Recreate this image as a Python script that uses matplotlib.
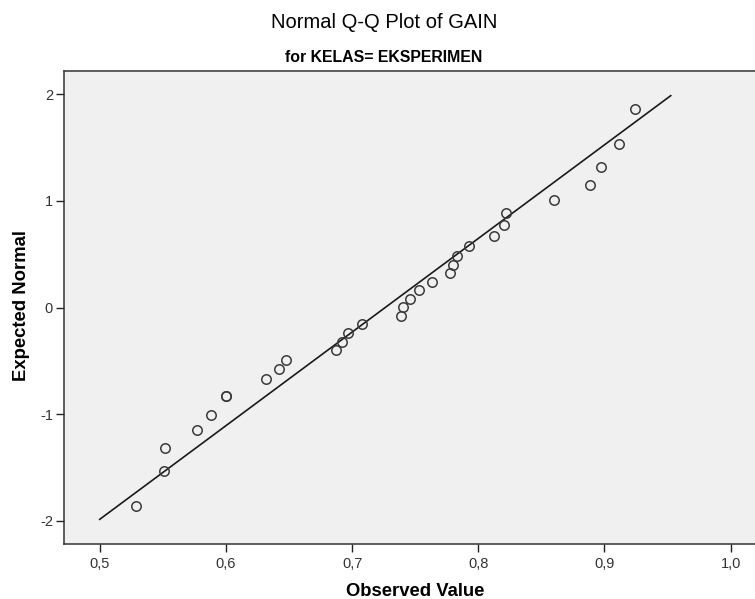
import matplotlib
matplotlib.use("Agg")
import matplotlib.pyplot as plt
from matplotlib.ticker import FuncFormatter

plt.rcParams['font.family'] = ['Liberation Sans', 'DejaVu Sans']

observed = [0.5285, 0.5512, 0.5520, 0.5771, 0.5882, 0.5998, 0.6315, 0.6423,
            0.6479, 0.6872, 0.6922, 0.6970, 0.7081, 0.7390, 0.7403, 0.7456,
            0.7528, 0.7631, 0.7776, 0.7797, 0.7829, 0.7924, 0.8122, 0.8204,
            0.8217, 0.8600, 0.8888, 0.8972, 0.9113, 0.9242]
expected = [-1.863, -1.535, -1.317, -1.151, -1.010, -0.832, -0.673, -0.579,
            -0.489, -0.398, -0.321, -0.236, -0.157, -0.080, 0.002, 0.080,
            0.161, 0.236, 0.321, 0.401, 0.485, 0.579, 0.673, 0.776,
            0.886, 1.010, 1.148, 1.317, 1.532, 1.860]

# Reference line endpoints
line_x = [0.5, 0.9525]
line_y = [-1.985, 1.985]

x_ticks = [0.5, 0.6, 0.7, 0.8, 0.9, 1.0]
y_ticks = [-2, -1, 0, 1, 2]

fig = plt.figure(figsize=(7.55, 5.99), dpi=100)
fig.patch.set_facecolor('white')
ax = fig.add_axes([64/755, 1-544/599, (755-64)/755, (544-71)/599])
ax.set_facecolor('#F0F0F0')

ax.plot(line_x, line_y, color='#1a1a1a', lw=1.2, zorder=2)
ax.plot(observed, expected, linestyle='none', marker='o', ms=6.8,
        mfc='none', mec='#3a3a3a', mew=1.1, zorder=3)
# tied pair drawn twice (thicker circle at 0.6)
ax.plot([observed[5]], [expected[5]], linestyle='none', marker='o', ms=6.8,
        mfc='none', mec='#3a3a3a', mew=1.1, zorder=3)

ax.set_xlim(0.5 + (64 - 99.7) / 1262, 0.5 + (755 - 99.7) / 1262)
ax.set_ylim(-2.216, 2.216)

ax.set_xticks(x_ticks)
ax.set_yticks(y_ticks)
ax.xaxis.set_major_formatter(FuncFormatter(lambda v, p: f"{v:.1f}".replace('.', ',')))
ax.yaxis.set_major_formatter(FuncFormatter(lambda v, p: f"{int(round(v))}"))
ax.tick_params(axis='both', direction='out', length=5.5, width=1.0,
               color='#222222', labelsize=10.5, labelcolor='#333333', pad=2.5)
ax.tick_params(axis='x', pad=3.5)

for s in ['left', 'bottom', 'top']:
    ax.spines[s].set_color('#333333')
    ax.spines[s].set_linewidth(1.1)
ax.spines['right'].set_visible(False)

fig.text(384/755, 1-22/599, 'Normal Q-Q Plot of GAIN', ha='center', va='center',
         fontsize=14.5)
fig.text(384/755, 1-57/599, 'for KELAS= EKSPERIMEN', ha='center', va='center',
         fontsize=11.4, fontweight='bold')
fig.text(415/755, 1-592/599, 'Observed Value', ha='center', va='center',
         fontsize=13.3, fontweight='bold')
fig.text(22/755, 1-306/599, 'Expected Normal', ha='center', va='center',
         fontsize=13.3, fontweight='bold', rotation=90)

fig.savefig('out.png', dpi=100, facecolor='white')
